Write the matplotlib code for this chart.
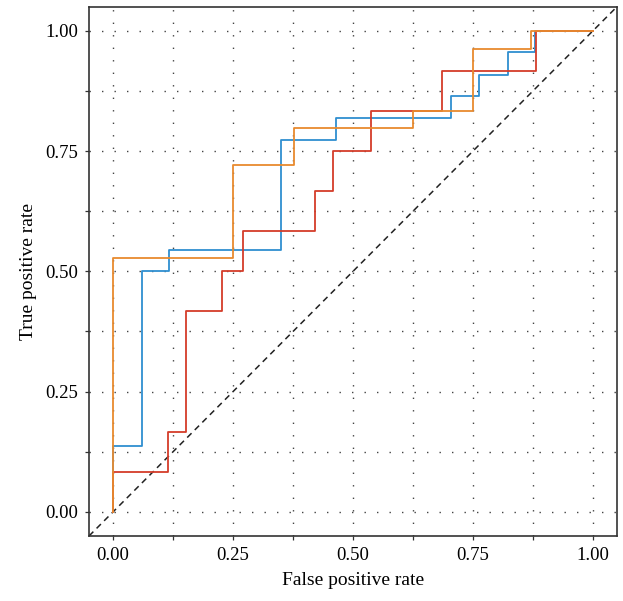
import numpy as np
import matplotlib
matplotlib.use("Agg")
import matplotlib.pyplot as plt
from matplotlib.ticker import MultipleLocator

plt.rcParams['font.family'] = ['Liberation Serif', 'DejaVu Serif']

# ROC step points (steps-post): fpr where each step starts, tpr reached
fpr_blue = [0, 0, 0.06, 0.117, 0.349, 0.465, 0.704, 0.763, 0.822, 0.879, 1.0]
tpr_blue = [0, 0.136, 0.5, 0.545, 0.773, 0.818, 0.864, 0.909, 0.955, 1.0, 1.0]

fpr_red = [0, 0, 0.115, 0.152, 0.228, 0.270, 0.421, 0.459, 0.5375, 0.685, 0.881, 1.0]
tpr_red = [0, 0.083, 0.167, 0.417, 0.5, 0.583, 0.667, 0.75, 0.833, 0.917, 1.0, 1.0]

fpr_orange = [0, 0, 0.25, 0.376, 0.624, 0.749, 0.871, 1.0]
tpr_orange = [0, 0.528, 0.72, 0.797, 0.833, 0.962, 1.0, 1.0]

major_ticks = [0.0, 0.25, 0.5, 0.75, 1.0]
tick_labels = ["0.00", "0.25", "0.50", "0.75", "1.00"]

fig = plt.figure(figsize=(6.23, 6.01), dpi=100)
ax = fig.add_axes([0.1429, 0.1082, 0.8475, 0.8807])

# chance line, corner to corner
lims = [-0.05, 1.05]
ax.plot(lims, lims, color="#222222", lw=1.1, linestyle=(0, (4, 3)), zorder=2)

ax.plot(fpr_blue, tpr_blue, drawstyle="steps-post", color="#2f8fd0", lw=1.3, zorder=3)
ax.plot(fpr_red, tpr_red, drawstyle="steps-post", color="#d43d2a", lw=1.3, zorder=3)
ax.plot(fpr_orange, tpr_orange, drawstyle="steps-post", color="#e88a2e", lw=1.3, zorder=4)

ax.set_xlim(lims)
ax.set_ylim(lims)
ax.set_xticks(major_ticks)
ax.set_xticklabels(tick_labels)
ax.set_yticks(major_ticks)
ax.set_yticklabels(tick_labels)
ax.xaxis.set_minor_locator(MultipleLocator(0.125))
ax.yaxis.set_minor_locator(MultipleLocator(0.125))

ax.grid(True, which="both", color="#444444", lw=1.0, linestyle=(0, (1, 8)), zorder=1)
ax.set_axisbelow(True)

for s in ax.spines.values():
    s.set_color("#333333")
    s.set_linewidth(1.2)

ax.tick_params(which="both", direction="out", length=3, width=0.9, color="#333333",
               labelsize=13.5, pad=5)
ax.set_xlabel("False positive rate", fontsize=14, labelpad=6)
ax.set_ylabel("True positive rate", fontsize=14, labelpad=6)

fig.savefig("out.png", dpi=100)
